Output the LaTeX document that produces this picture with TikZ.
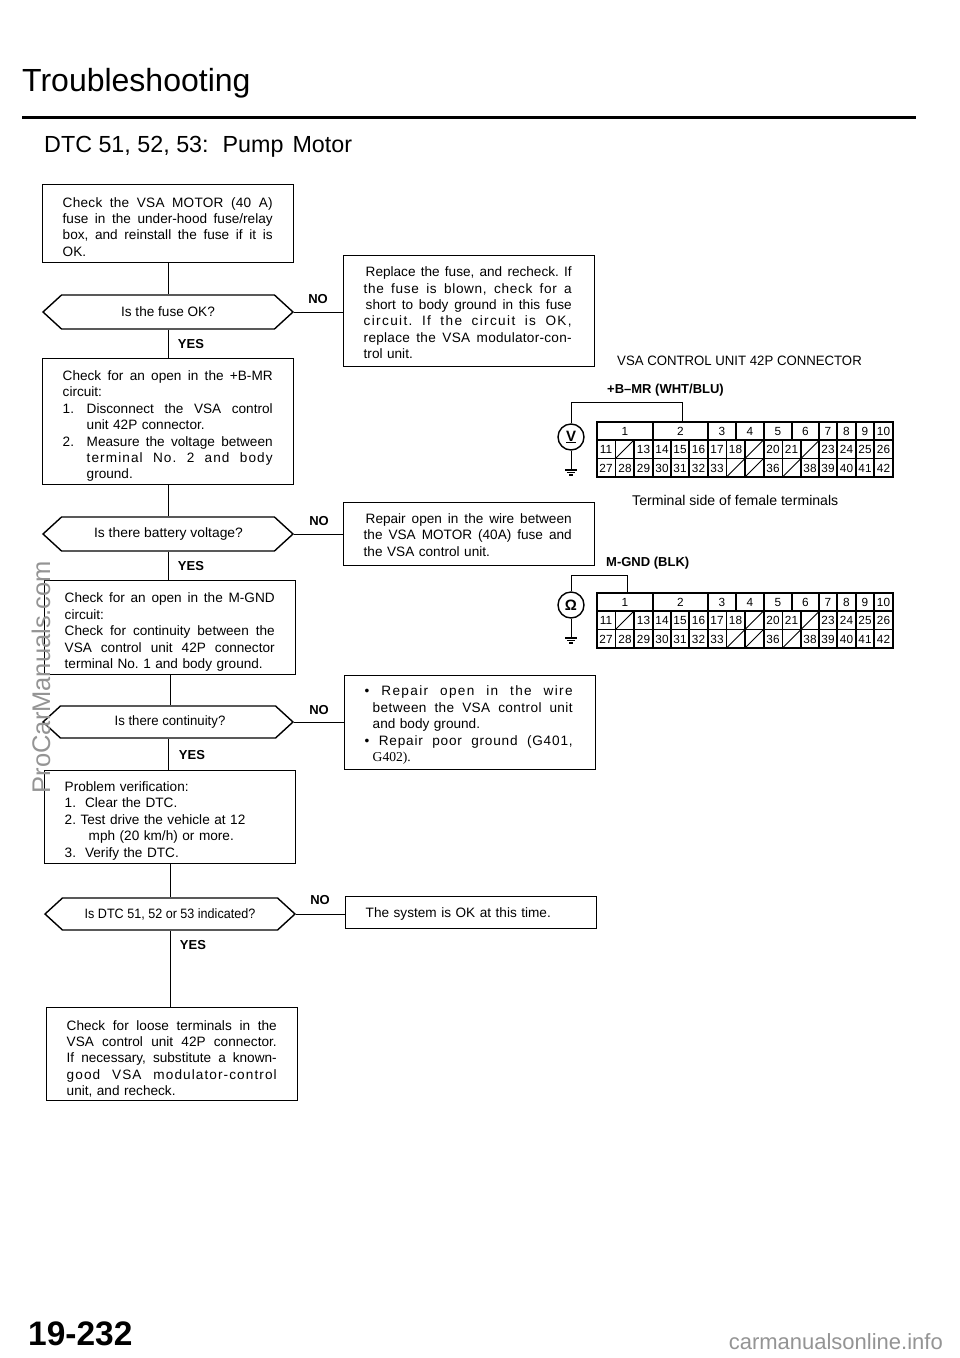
\documentclass[tikz,border=0pt]{standalone}
\usepackage{fontspec}
\usepackage{graphicx}
\setmainfont{Liberation Sans}
\usetikzlibrary{shapes.symbols,calc}
\frenchspacing
\newlength\jlw
\setlength\jlw{210pt}
\newcommand\jl[2][0pt]{\hspace*{#1}\hbox to \dimexpr\jlw-#1\relax{\spaceskip=0pt\xspaceskip=0pt\relax #2}}
\newcommand\ind[2][24pt]{\hspace*{#1}#2}
\newcommand\dn[1]{\rule{0pt}{\dimexpr10pt+#1\relax}}
\newcommand\ls[1]{\addfontfeature{LetterSpace=#1}}
\newcommand\num[1]{\hbox to 24pt{#1\hss}}
\tikzset{
  x=1pt,y=-1pt,
  line width=1.3pt,
  stepbox/.style={draw,rectangle,inner xsep=20.5pt,inner ysep=0pt,text width=210pt,align=left,
    font=\fontsize{13.6}{16.4}\selectfont\frenchspacing,anchor=north west},
  rightbox/.style={stepbox,execute at begin node={\setlength\jlw{208pt}}},
  querybox/.style={draw,signal,signal to=west and east,signal pointer angle=85,line width=1.4pt,
    minimum width=250pt,minimum height=34pt,inner xsep=0pt,inner ysep=0pt,font=\fontsize{13.6}{16}\selectfont},
  answer/.style={font=\fontsize{13}{13}\bfseries\selectfont},
  wirelabel/.style={font=\fontsize{13}{13}\bfseries\selectfont,anchor=base west,inner sep=0pt},
  plain/.style={font=\fontsize{13.6}{16}\selectfont,anchor=base west,inner sep=0pt},
  pin/.style={font=\fontsize{11.8}{12}\selectfont,inner sep=0pt},
  meter/.style={draw,circle,minimum size=26pt,inner sep=0pt,line width=1.4pt,fill=white,font=\fontsize{15}{15}\bfseries\selectfont},
  mark wm/.style={text=black!42,inner sep=0pt},
}
% connector table: #1 prefix, #2 top y
\newcommand\conntable[2]{%
 \begin{scope}[shift={(0,#2)},line width=1.2pt]
  \draw (597,0) rectangle (893,55);
  \draw (597,18) -- (893,18) (597,36.5) -- (893,36.5);
  \foreach \x in {653,708,736,764,792,819,837,856,874}{\draw (\x,0) -- (\x,18);}
  \foreach \x in {615.5,634,653,671,689,708,726.5,745,764,782.5,801,819,837,856,874}{\draw (\x,18) -- (\x,55);}
  \foreach \x in {615.5,745,801}{\draw[line width=.9pt] (\x,36.5) -- (\x+18.5,18);}
  \foreach \x in {726.5,745,782.5}{\draw[line width=.9pt] (\x,55) -- (\x+18.5,36.5);}
  \foreach \t/\x in {1/625,2/680.5,3/722,4/750,5/778,6/805.5,7/828,8/846.5,9/865,10/883.5}
    \node[pin] (#1-r\t) at (\x,9) {\t};
  \foreach \t/\x in {11/606,13/643.5,14/662,15/680,16/698.5,17/717,18/735.5,20/773,21/791.5,23/828,24/846.5,25/865,26/883.5}
    \node[pin] (#1-r\t) at (\x,27.5) {\t};
  \foreach \t/\x in {27/606,28/625,29/643.5,30/662,31/680,32/698.5,33/717,36/773,38/810,39/828,40/846.5,41/865,42/883.5}
    \node[pin] (#1-r\t) at (\x,46) {\t};
 \end{scope}}
\newcommand\groundat[1]{%
  \draw[line width=1.1pt] ($(#1)+(-6,0)$) -- ($(#1)+(6,0)$)
     ($(#1)+(-4,2.5)$) -- ($(#1)+(4,2.5)$)
     ($(#1)+(-2,5)$) -- ($(#1)+(2,5)$);}
\begin{document}
\begin{tikzpicture}
\useasboundingbox (0,0) rectangle (960,1358);
\fill[white] (0,0) rectangle (960,1358);
\node[font=\fontsize{32}{32}\selectfont,anchor=base west,inner sep=0pt] (title) at (22,91) {Troubleshooting};
\coordinate (ruleL) at (22,117.5); \coordinate (ruleR) at (916,117.5);
\draw[line width=2.6pt] (ruleL) -- (ruleR);
\node[font=\fontsize{23.3}{25}\selectfont,anchor=base west,inner sep=0pt] (sub) at (44,152.5) {DTC 51, 52, 53:\hspace{14pt}Pump\hspace{9pt}Motor};

\node[stepbox,minimum height=78pt] (b1) at (42,184) {\dn{7pt}%
  \jl{\ls{2}Check the VSA MOTOR (40 A)}\\ \jl{fuse in the under-hood fuse/relay}\\ \jl{box, and reinstall the fuse if it is}\\ OK.};
\node[querybox] (d1) at (168,312) {\raisebox{-1pt}{Is the fuse OK?}};
\node[stepbox,minimum height=126pt] (b2) at (42,358) {\dn{10pt}%
  \jl{Check for an open in the +B-MR}\\ circuit:\\ \jl{\num{1.}Disconnect the VSA control}\\ \ind{unit 42P connector.}\\
  \jl{\num{2.}Measure the voltage between}\\ \jl[24pt]{\ls{8}terminal No. 2 and body}\\ \ind{ground.}};
\node[querybox] (d2) at (168,534) {\raisebox{-1.5pt}{\hspace*{1pt}\scalebox{1.02}[1]{Is there battery voltage?}}};
\node[stepbox,minimum height=94pt] (b3) at (44,580) {\dn{10pt}%
  \jl{Check for an open in the M-GND}\\ circuit:\\ \jl{Check for continuity between the}\\ \jl{VSA control unit 42P connector}\\ terminal No. 1 and body ground.};
\node[querybox,minimum height=32pt] (d3) at (168,722) {\raisebox{-1.5pt}{\hspace*{4pt}\scalebox{.97}[1]{Is there continuity?}}};
\node[stepbox,minimum height=93pt] (b4) at (44,770) {\dn{8pt}%
  Problem verification:\\ 1.\ \ Clear the DTC.\\ 2. Test drive the vehicle at 12\\ \ind{mph (20 km/h) or more.}\\ 3.\ \ Verify the DTC.};
\node[querybox,minimum height=32pt] (d4) at (170,914) {\scalebox{.925}[1]{Is DTC 51, 52 or 53 indicated?}};
\node[stepbox,minimum height=93pt] (b5) at (46,1007) {\dn{10pt}%
  \jl{Check for loose terminals in the}\\ \jl{VSA control unit 42P connector.}\\ \jl{If necessary, substitute a known-}\\ \jl{\ls{8}good VSA modulator-control}\\ unit, and recheck.};

\node[rightbox,minimum height=111pt] (r1) at (343,255) {\dn{4pt}%
  \jl[2pt]{Replace the fuse, and recheck. If}\\ \jl{\ls{5}the fuse is blown, check for a}\\ \jl[2pt]{short to body ground in this fuse}\\ \jl{\ls{10}circuit. If the circuit is OK,}\\ \jl{\ls{2}replace the VSA modulator-con-}\\ trol unit.};
\node[rightbox,minimum height=63pt] (r2) at (343,502) {\dn{2pt}%
  \jl[2pt]{Repair open in the wire between}\\ \jl{the VSA MOTOR (40A) fuse and}\\ the VSA control unit.};
\node[rightbox,minimum height=94pt] (r3) at (344,675) {\dn{6pt}%
  \jl{\ls{10}• Repair open in the wire}\\ \jl[8pt]{\ls{3}between the VSA control unit}\\ \ind[8pt]{and body ground.}\\ \jl{\ls{6}• Repair poor ground (G401,}\\ \ind[8pt]{{\fontspec{Liberation Serif}G402).}}};
\node[rightbox,minimum height=32pt] (r4) at (345,896) {\dn{4pt}The system is OK at this time.};

\draw (b1.south) -- (b1.south |- d1.north);
\draw (d1.south) -- (d1.south |- b2.north);
\draw (b2.south) -- (b2.south |- d2.north);
\draw (d2.south) -- (d2.south |- b3.north);
\draw (b3.south) -- (b3.south |- d3.north);
\draw (d3.south) -- (d3.south |- b4.north);
\draw (b4.south) -- (b4.south |- d4.north);
\draw (d4.south) -- (d4.south |- b5.north);
\draw (d1.east) -- (r1.west |- d1.east);
\draw (d2.east) -- (r2.west |- d2.east);
\draw (d3.east) -- (r3.west |- d3.east);
\draw (d4.east) -- (r4.west |- d4.east);

\foreach \n/\x/\y in {n1/318/299,n2/319/521,n3/319/710,n4/320/900}
  \node[answer] (\n) at (\x,\y) {NO};
\foreach \n/\x/\y in {y1/191/344,y2/191/566,y3/192/755,y4/193/945}
  \node[answer] (\n) at (\x,\y) {YES};

\node[plain] (lab1) at (617,365) {\scalebox{.97}[1]{VSA CONTROL UNIT 42P CONNECTOR}};
\node[wirelabel] (lab2) at (607,393) {+B–MR (WHT/BLU)};
\node[plain,font=\fontsize{14.1}{16}\selectfont] (lab3) at (632,505) {Terminal side of female terminals};
\node[wirelabel] (lab4) at (606,566) {M-GND (BLK)};

\conntable{ta}{422}
\conntable{tb}{593}
\node[meter] (vm) at (571,437) {\underline{V}};
\node[meter] (om) at (571,605) {Ω};
\coordinate (tap1) at (682,422); \coordinate (tap2) at (627,593);
\coordinate (g1) at (571,470); \coordinate (g2) at (571,638);
\draw (vm.north) |- ($(tap1)+(0,-19.5)$) -- (tap1);
\draw (om.north) |- ($(tap2)+(0,-18)$) -- (tap2);
\draw (vm.south) -- (g1);
\draw (om.south) -- (g2);
\groundat{g1}
\groundat{g2}

\node[font=\fontsize{34}{35}\bfseries\selectfont,anchor=base west,inner sep=0pt] (page) at (28,1345) {\scalebox{.985}[1]{19-232}};
\node[mark wm,rotate=90,font=\fontsize{25.5}{26}\selectfont] (wm1) at (41,677) {ProCarManuals.com};
\node[mark wm,font=\fontsize{22}{22}\selectfont,anchor=base east] (wm2) at (943,1349) {carmanualsonline.info};
\end{tikzpicture}
\end{document}
